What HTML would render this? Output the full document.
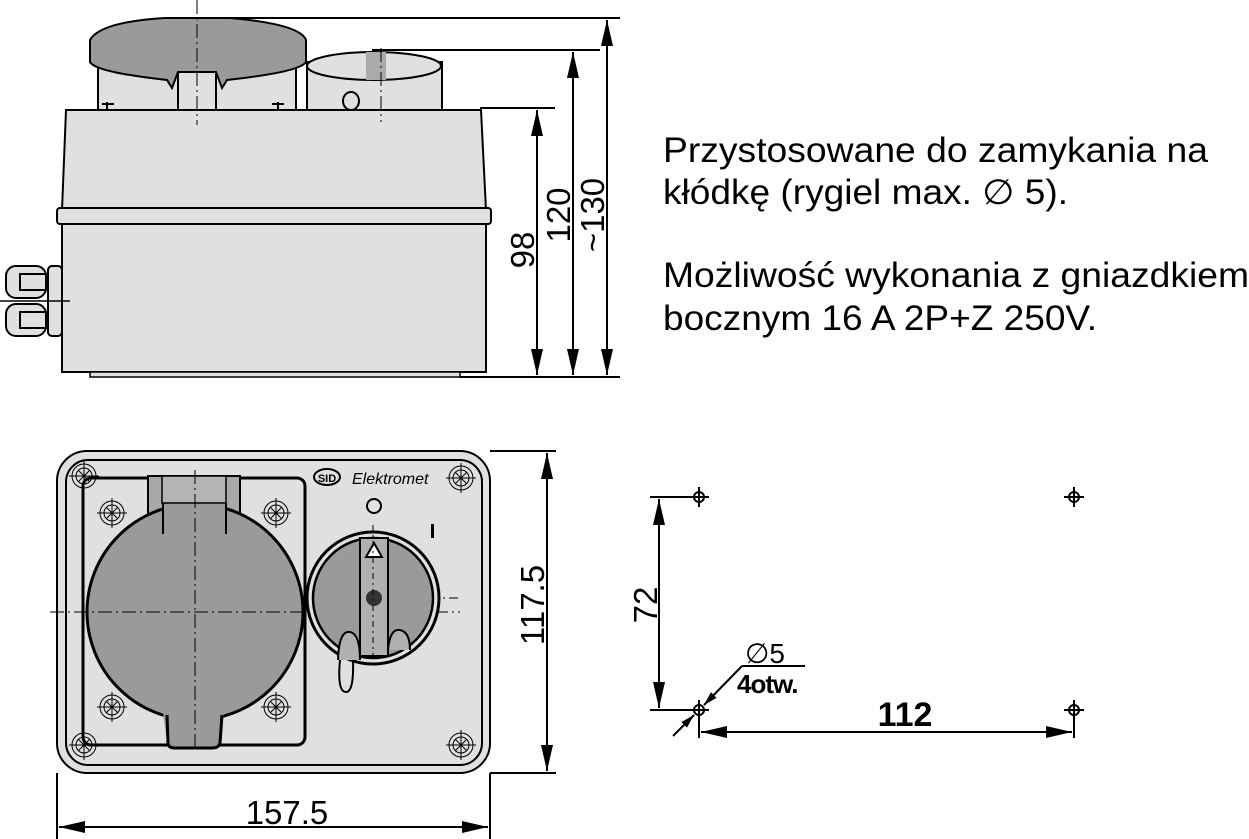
<!DOCTYPE html>
<html><head><meta charset="utf-8"><style>
html,body{margin:0;padding:0;background:#fff;}
svg{display:block;}
text{font-family:"Liberation Sans",Arial,sans-serif;fill:#000;}
</style></head><body>
<svg width="1249" height="839" viewBox="0 0 1249 839" xmlns="http://www.w3.org/2000/svg">
<defs>
<marker id="a" viewBox="0 0 26 12" refX="26" refY="6" markerWidth="26" markerHeight="12" markerUnits="userSpaceOnUse" orient="auto-start-reverse"><path d="M0,0 L26,6 L0,12 z" fill="#000"/></marker>
<marker id="s" viewBox="0 0 14 8" refX="14" refY="4" markerWidth="14" markerHeight="8" markerUnits="userSpaceOnUse" orient="auto-start-reverse"><path d="M0,0 L14,4 L0,8 z" fill="#000"/></marker>
<g id="scr"><circle r="12" fill="none" stroke="#000" stroke-width="1"/><circle r="8" fill="none" stroke="#000" stroke-width="1"/><path d="M-15,0H15M0,-15V15M-6,-6L6,6M-6,6L6,-6" stroke="#000" stroke-width="1"/></g>
<g id="hole"><circle r="5" fill="none" stroke="#000" stroke-width="2"/><path d="M-10,0H10M0,-10V10" stroke="#000" stroke-width="2"/></g>
</defs>

<!-- ===== TOP SIDE VIEW ===== -->
<rect x="98" y="60" width="198" height="50" fill="#e0e0e0" stroke="#000" stroke-width="2"/>
<rect x="178" y="64" width="38" height="46" fill="#e0e0e0" stroke="#000" stroke-width="2"/>
<path d="M107,110 v-8 M102,104 h12 M278,110 v-8 M272,104 h12" stroke="#000" stroke-width="2" fill="none"/>
<path d="M90,40 Q100,22 165,18 L230,18 Q300,24 306,40 L306,62 Q300,72 227,80 L222,88 L216,72 L178,72 L172,88 L167,80 Q95,72 90,62 Z" fill="#9a9a9a" stroke="#000" stroke-width="2"/>
<rect x="307" y="62" width="135" height="48" fill="#e0e0e0" stroke="#000" stroke-width="2"/>
<ellipse cx="374" cy="66" rx="67" ry="14" fill="#e0e0e0" stroke="#000" stroke-width="2"/>
<rect x="366" y="52" width="20" height="28" fill="#aaa"/>
<line x1="372" y1="50" x2="600" y2="50" stroke="#000" stroke-width="2"/>
<ellipse cx="351" cy="101" rx="8" ry="9" fill="none" stroke="#000" stroke-width="2"/>
<path d="M66,110 L481,110 L486,210 L62,210 Z" fill="#e0e0e0" stroke="#000" stroke-width="2"/>
<rect x="57" y="208" width="434" height="16" rx="3" fill="#e0e0e0" stroke="#000" stroke-width="2"/>
<rect x="62" y="224" width="424" height="148" fill="#e0e0e0" stroke="#000" stroke-width="2"/>
<rect x="90" y="372" width="370" height="5" fill="#e0e0e0" stroke="#000" stroke-width="1.5"/>
<rect x="48" y="266" width="14" height="70" rx="4" fill="#e0e0e0" stroke="#000" stroke-width="2"/>
<rect x="6" y="266" width="40" height="32" rx="10" fill="#e0e0e0" stroke="#000" stroke-width="2"/>
<rect x="6" y="304" width="40" height="32" rx="10" fill="#e0e0e0" stroke="#000" stroke-width="2"/>
<rect x="20" y="274" width="26" height="16" fill="none" stroke="#000" stroke-width="2"/>
<rect x="20" y="312" width="26" height="16" fill="none" stroke="#000" stroke-width="2"/>
<line x1="0" y1="301" x2="70" y2="301" stroke="#000" stroke-width="1.5"/>
<line x1="197" y1="0" x2="197" y2="125" stroke="#000" stroke-width="1" stroke-dasharray="14,4,2,4"/>
<line x1="381" y1="48" x2="381" y2="122" stroke="#000" stroke-width="1" stroke-dasharray="14,4,2,4"/>
<g stroke="#000" stroke-width="2" fill="none">
<line x1="230" y1="18" x2="620" y2="18"/>
<line x1="480" y1="108" x2="555" y2="108"/>
<line x1="460" y1="377" x2="620" y2="377"/>
<line x1="537" y1="110" x2="537" y2="375" marker-start="url(#a)" marker-end="url(#a)"/>
<line x1="573" y1="52" x2="573" y2="375" marker-start="url(#a)" marker-end="url(#a)"/>
<line x1="607" y1="20" x2="607" y2="375" marker-start="url(#a)" marker-end="url(#a)"/>
</g>
<text transform="translate(534,250) rotate(-90)" font-size="33" text-anchor="middle">98</text>
<text transform="translate(570,215) rotate(-90)" font-size="33" text-anchor="middle">120</text>
<text transform="translate(604,215) rotate(-90)" font-size="33" text-anchor="middle">~130</text>

<text x="663" y="162" font-size="35" textLength="545" lengthAdjust="spacingAndGlyphs">Przystosowane do zamykania na</text>
<text x="663" y="204" font-size="35" textLength="405" lengthAdjust="spacingAndGlyphs">kłódkę (rygiel max. ∅ 5).</text>
<text x="663" y="287" font-size="35" textLength="586" lengthAdjust="spacingAndGlyphs">Możliwość wykonania z gniazdkiem</text>
<text x="663" y="330" font-size="35" textLength="434" lengthAdjust="spacingAndGlyphs">bocznym 16 A 2P+Z 250V.</text>

<!-- ===== FRONT VIEW ===== -->
<rect x="57" y="451" width="433" height="322" rx="30" fill="#e0e0e0" stroke="#000" stroke-width="2"/>
<rect x="66" y="460" width="416" height="305" rx="22" fill="#e0e0e0" stroke="#000" stroke-width="2"/>
<rect x="83" y="478" width="222" height="267" rx="8" fill="#e0e0e0" stroke="#000" stroke-width="3"/>
<use href="#scr" x="84" y="476"/><use href="#scr" x="461" y="478"/>
<use href="#scr" x="84" y="745"/><use href="#scr" x="461" y="745"/>
<use href="#scr" x="112" y="513"/><use href="#scr" x="276" y="513"/>
<use href="#scr" x="112" y="707"/><use href="#scr" x="276" y="707"/>
<rect x="148" y="476" width="92" height="50" fill="#a8a8a8" stroke="#000" stroke-width="2"/>
<circle cx="195" cy="612" r="108" fill="#9a9a9a" stroke="#000" stroke-width="3"/>
<rect x="163" y="476" width="63" height="60" fill="#9a9a9a"/>
<path d="M163,503 V534 M226,503 V534" stroke="#000" stroke-width="2"/>
<rect x="162" y="476" width="64" height="27" fill="#b4b4b4" stroke="#000" stroke-width="1.5"/>
<path d="M163,712 L167,743 Q168,748 175,748 L212,748 Q219,748 220,743 L224,712 Z" fill="#9a9a9a"/>
<path d="M167,715 L168,743 Q168,748 175,748 L212,748 Q219,748 220,743 L222,715" fill="none" stroke="#000" stroke-width="3"/>
<line x1="195" y1="470" x2="195" y2="752" stroke="#000" stroke-width="1" stroke-dasharray="14,4,2,4"/>
<line x1="50" y1="612" x2="460" y2="612" stroke="#000" stroke-width="1" stroke-dasharray="14,4,2,4"/>
<line x1="305" y1="598" x2="458" y2="598" stroke="#000" stroke-width="1" stroke-dasharray="14,4,2,4"/>
<path d="M340,660 q-3,32 6,32 q8,0 7,-32" fill="#e0e0e0" stroke="#000" stroke-width="2"/>
<circle cx="373" cy="598" r="66" fill="#e0e0e0" stroke="#000" stroke-width="3"/>
<circle cx="373" cy="598" r="60" fill="#9a9a9a" stroke="#000" stroke-width="2.5"/>
<rect x="360" y="538" width="28" height="118" fill="#b0b0b0" stroke="#000" stroke-width="2"/>
<path d="M366,557 L374,543 L382,557 Z" fill="#fff" stroke="#000" stroke-width="2"/>
<circle cx="374" cy="598" r="8" fill="#333"/>
<path d="M338,660 q1,-30 12,-28 q10,2 10,28" fill="#b0b0b0" stroke="#000" stroke-width="2"/>
<path d="M388,650 q2,-22 12,-20 q10,2 10,20" fill="#b0b0b0" stroke="#000" stroke-width="2"/>
<line x1="373" y1="525" x2="373" y2="660" stroke="#000" stroke-width="1" stroke-dasharray="6,4,2,4"/>
<circle cx="374" cy="506" r="7" fill="none" stroke="#000" stroke-width="2"/>
<rect x="431" y="524" width="3" height="14" fill="#000"/>
<ellipse cx="327" cy="477" rx="13" ry="8" fill="none" stroke="#000" stroke-width="2"/>
<text x="327" y="482" font-size="11" font-weight="bold" text-anchor="middle">SID</text>
<text x="352" y="484" font-size="16" font-style="italic" font-family="Liberation Serif,serif">Elektromet</text>
<g stroke="#000" stroke-width="2" fill="none">
<line x1="490" y1="451" x2="556" y2="451"/>
<line x1="490" y1="773" x2="556" y2="773"/>
<line x1="547" y1="453" x2="547" y2="771" marker-start="url(#a)" marker-end="url(#a)"/>
<line x1="57" y1="773" x2="57" y2="839"/>
<line x1="490" y1="773" x2="490" y2="839"/>
<line x1="59" y1="827" x2="488" y2="827" marker-start="url(#a)" marker-end="url(#a)"/>
</g>
<text transform="translate(544,605) rotate(-90)" font-size="33" text-anchor="middle">117.5</text>
<text x="287" y="824" font-size="33" text-anchor="middle">157.5</text>

<!-- ===== HOLE PATTERN ===== -->
<use href="#hole" x="699" y="497"/><use href="#hole" x="1074" y="497"/>
<use href="#hole" x="699" y="710"/><use href="#hole" x="1074" y="710"/>
<g stroke="#000" stroke-width="2" fill="none">
<line x1="650" y1="497" x2="692" y2="497"/>
<line x1="650" y1="710" x2="692" y2="710"/>
<line x1="659" y1="499" x2="659" y2="708" marker-start="url(#a)" marker-end="url(#a)"/>
<line x1="699" y1="712" x2="699" y2="738"/>
<line x1="1074" y1="712" x2="1074" y2="738"/>
<line x1="701" y1="732" x2="1072" y2="732" marker-start="url(#a)" marker-end="url(#a)"/>
<line x1="805" y1="666" x2="742" y2="666"/>
<line x1="742" y1="666" x2="704" y2="705" marker-end="url(#s)"/>
<line x1="673" y1="736" x2="694" y2="715" marker-end="url(#s)"/>
</g>
<text transform="translate(657,605) rotate(-90)" font-size="33" text-anchor="middle">72</text>
<text x="745" y="663" font-size="28">∅5</text>
<text x="737" y="693" font-size="26" font-weight="bold" letter-spacing="-1">4otw.</text>
<text x="905" y="726" font-size="34" font-weight="bold" text-anchor="middle">112</text>
</svg>
</body></html>
